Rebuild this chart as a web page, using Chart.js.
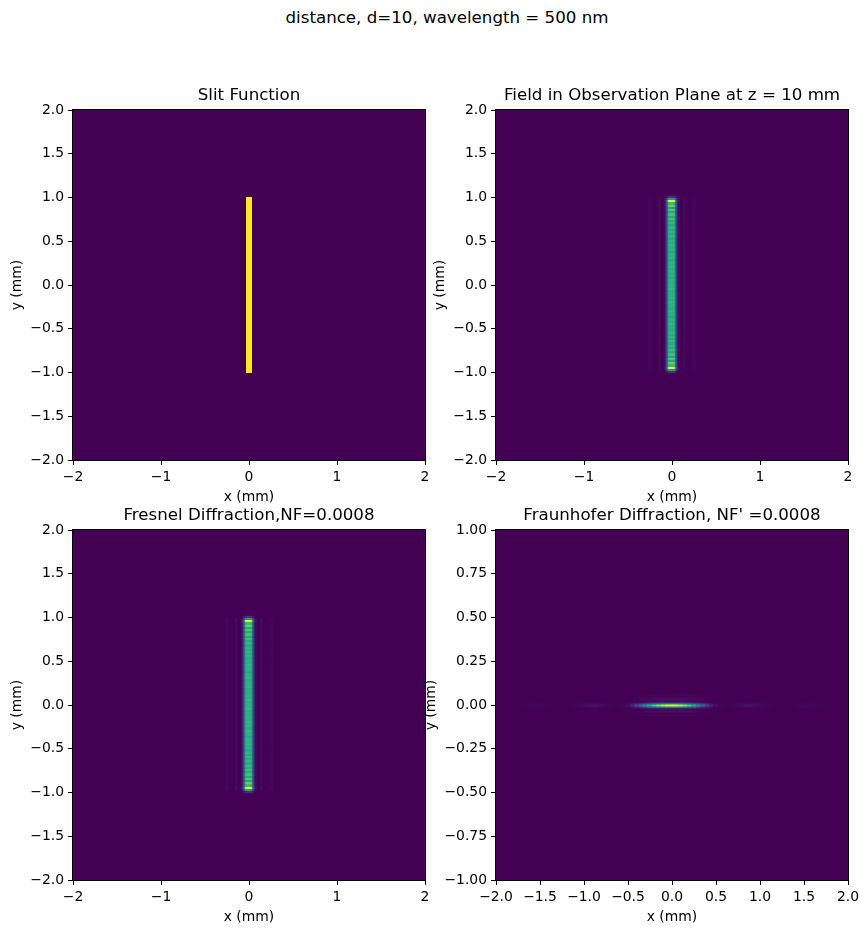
<!DOCTYPE html>
<html lang="en">
<head>
    <meta charset="UTF-8">
    <title>distance, d=10, wavelength = 500 nm</title>
    <script src="https://cdn.jsdelivr.net/npm/chart.js"></script>
    <style>
        body { margin: 0; background: #fff; width: 868px; height: 933px; position: relative; overflow: hidden; }
        #suptitle { position: absolute; left: 247px; width: 400px; top: 8px; line-height: 20px; text-align: center;
                    font: 16.67px "DejaVu Sans", sans-serif; color: #000; }
        .box { position: absolute; }
    </style>
</head>
<body>
    <div id="suptitle">distance, d=10, wavelength = 500 nm</div>
    <div class="box" style="left:0px;top:60px;width:434px;height:446px"><canvas id="slit"></canvas></div>
    <div class="box" style="left:423px;top:60px;width:445px;height:446px"><canvas id="field"></canvas></div>
    <div class="box" style="left:0px;top:480px;width:434px;height:446px"><canvas id="fresnel"></canvas></div>
    <div class="box" style="left:423px;top:480px;width:445px;height:446px"><canvas id="fraun"></canvas></div>

    <script>
        // Slit aperture (mm)
        const slitWidth = 0.05;
        const slitLength = 2.0;

        // Field / Fresnel pattern: profile across the slit (x offsets in mm, relative intensity)
        const fieldX = [-0.26, -0.25, -0.24, -0.15, -0.14, -0.13,
            -0.08, -0.07, -0.06, -0.05, -0.04, -0.03, -0.02, -0.01, 0, 0.01, 0.02, 0.03, 0.04, 0.05, 0.06, 0.07, 0.08,
            0.13, 0.14, 0.15, 0.24, 0.25, 0.26];
        const fieldXProfile = [0.015, 0.025, 0.015, 0.025, 0.035, 0.025,
            0.04, 0.12, 0.30, 0.55, 0.78, 0.92, 0.98, 1.00, 1.00, 1.00, 0.98, 0.92, 0.78, 0.55, 0.30, 0.12, 0.04,
            0.025, 0.035, 0.025, 0.015, 0.025, 0.015];
        // profile along the slit, from y = 1.05 mm down to y = -1.05 mm every 0.025 mm
        const fieldYStart = 1.05, fieldYStep = 0.025;
        const fieldYProfile = [
            0.00, 0.02, 0.15, 0.55, 1.00, 0.68, 0.78, 0.60, 0.74, 0.60, 0.71, 0.61, 0.70, 0.62, 0.68, 0.61,
            0.67, 0.62, 0.67, 0.62, 0.66, 0.62, 0.65, 0.63, 0.66, 0.64, 0.65, 0.62, 0.65, 0.64, 0.66, 0.63,
            0.65, 0.64, 0.66, 0.63, 0.65, 0.64, 0.65, 0.63, 0.66, 0.64, 0.65,
            0.64, 0.66, 0.63, 0.65, 0.64, 0.65, 0.63, 0.66, 0.64, 0.65, 0.63, 0.66, 0.64, 0.65, 0.62, 0.65,
            0.64, 0.66, 0.63, 0.65, 0.62, 0.66, 0.62, 0.67, 0.62, 0.67, 0.61, 0.68, 0.62, 0.70, 0.61, 0.71,
            0.60, 0.74, 0.60, 0.78, 0.68, 1.00, 0.55, 0.15, 0.02, 0.00];

        // Fraunhofer pattern: x from -2 to 2 mm every 0.05 mm
        const fraunXStart = -2.0, fraunXStep = 0.05;
        const fraunXProfile = [
            0, 0, 0, 0, 0, 0, 0.005, 0.01, 0.015, 0.02, 0.02, 0.015, 0.01, 0.005, 0, 0, 0, 0,
            0.008, 0.02, 0.03, 0.04, 0.05, 0.05, 0.035, 0.02, 0.01, 0, 0,
            0.01, 0.04, 0.10, 0.20, 0.32, 0.46, 0.60, 0.74, 0.85, 0.93, 0.98,
            1.00,
            0.98, 0.93, 0.85, 0.74, 0.60, 0.46, 0.32, 0.20, 0.10, 0.04, 0.01,
            0, 0, 0.01, 0.02, 0.035, 0.05, 0.05, 0.04, 0.03, 0.02, 0.008,
            0, 0, 0, 0, 0.005, 0.01, 0.015, 0.02, 0.02, 0.015, 0.01, 0.005, 0, 0, 0, 0, 0, 0];
        // y from -0.06 to 0.06 mm every 0.005 mm
        const fraunYStart = -0.06, fraunYStep = 0.005;
        const fraunYProfile = [
            0.01, 0.015, 0, 0, 0.03, 0.05, 0.03, 0, 0.02, 0.10, 0.35, 0.75,
            1.00,
            0.75, 0.35, 0.10, 0.02, 0, 0.03, 0.05, 0.03, 0, 0, 0.015, 0.01];

        // Titles and ticks
        const figTitle = 'distance, d=10, wavelength = 500 nm';
        const titles = ['Slit Function', 'Field in Observation Plane at z = 10 mm',
                        'Fresnel Diffraction,NF=0.0008', "Fraunhofer Diffraction, NF' =0.0008"];
        const axisLabelX = 'x (mm)', axisLabelY = 'y (mm)';

        const FONT = '"DejaVu Sans", sans-serif';
        const viridisStops = ['#440154', '#472c7a', '#3b518b', '#2c718e', '#21908d',
                              '#27ad81', '#5cc863', '#aadc32', '#fde725'].map(h => [
            parseInt(h.slice(1, 3), 16), parseInt(h.slice(3, 5), 16), parseInt(h.slice(5, 7), 16)]);

        function viridis(v) {
            v = Math.max(0, Math.min(1, v));
            const t = v * (viridisStops.length - 1);
            const i = Math.min(Math.floor(t), viridisStops.length - 2);
            const f = t - i, a = viridisStops[i], b = viridisStops[i + 1];
            return `rgb(${Math.round(a[0] + (b[0] - a[0]) * f)},${Math.round(a[1] + (b[1] - a[1]) * f)},${Math.round(a[2] + (b[2] - a[2]) * f)})`;
        }

        function fmt(v, digits) {
            return v.toFixed(digits).replace('-', '\u2212');
        }

        // draws the image cells through the chart's scales, then the axes frame
        const heatmap = {
            id: 'heatmap',
            beforeDatasetsDraw(chart) {
                const { ctx, chartArea: a, scales: { x, y } } = chart;
                ctx.save();
                ctx.beginPath();
                ctx.rect(a.left, a.top, a.width, a.height);
                ctx.clip();
                ctx.fillStyle = viridis(0);
                ctx.fillRect(a.left, a.top, a.width, a.height);
                chart.data.datasets.forEach(ds => {
                    ds.data.forEach(p => {
                        const x0 = Math.floor(x.getPixelForValue(p.x - ds.cellW / 2));
                        const x1 = Math.ceil(x.getPixelForValue(p.x + ds.cellW / 2));
                        const y0 = Math.floor(y.getPixelForValue(p.y + ds.cellH / 2));
                        const y1 = Math.ceil(y.getPixelForValue(p.y - ds.cellH / 2));
                        ctx.fillStyle = viridis(p.v);
                        ctx.fillRect(x0, y0, x1 - x0, y1 - y0);
                    });
                });
                ctx.restore();
            },
            afterDraw(chart) {
                const { ctx, chartArea: a } = chart;
                ctx.save();
                ctx.strokeStyle = '#000';
                ctx.lineWidth = 1;
                ctx.strokeRect(Math.round(a.left) - 0.5, Math.round(a.top) - 0.5,
                               Math.round(a.width) + 1, Math.round(a.height) + 1);
                ctx.restore();
            }
        };

        function axis(horizontal, min, max, step, digits, label, size, titlePad) {
            return {
                type: 'linear', min: min, max: max,
                ticks: {
                    stepSize: step, color: '#000', padding: 4, maxRotation: 0, autoSkip: false,
                    font: { family: FONT, size: 13.9 },
                    callback: v => fmt(v, digits)
                },
                grid: { drawOnChartArea: false, color: '#000', tickLength: 5, lineWidth: 1 },
                border: { display: false },
                title: {
                    display: true, text: label, color: '#000',
                    font: { family: FONT, size: 13.9 }, padding: titlePad
                },
                afterFit(s) {
                    if (horizontal) s.height = size; else s.width = size;
                }
            };
        }

        function makeChart(id, title, cells, cellW, cellH, xAxis, yAxis, padRight) {
            return new Chart(document.getElementById(id), {
                type: 'scatter',
                data: { datasets: [{ data: cells, cellW: cellW, cellH: cellH, pointRadius: 0, pointHoverRadius: 0 }] },
                options: {
                    responsive: true, maintainAspectRatio: false, animation: false,
                    events: [],
                    layout: { padding: { top: 26, right: padRight, left: 0, bottom: 0 } },
                    plugins: {
                        legend: { display: false },
                        tooltip: { enabled: false },
                        title: {
                            display: true, text: title, color: '#000', fullSize: false,
                            font: { family: FONT, size: 16.67, weight: 'normal' },
                            padding: { top: 0, bottom: 4 }
                        }
                    },
                    scales: { x: xAxis, y: yAxis }
                },
                plugins: [heatmap]
            });
        }

        // cells of the separable field pattern centred on x = 0
        const fieldCells = [];
        fieldYProfile.forEach((vy, j) => {
            fieldX.forEach((xv, i) => {
                fieldCells.push({ x: xv, y: fieldYStart - j * fieldYStep, v: fieldXProfile[i] * vy });
            });
        });

        const fraunCells = [];
        fraunYProfile.forEach((vy, j) => {
            fraunXProfile.forEach((vx, i) => {
                if (vx * vy > 0) fraunCells.push({ x: fraunXStart + i * fraunXStep, y: fraunYStart + j * fraunYStep, v: vx * vy });
            });
        });

        const slitCells = [{ x: 0, y: 0, v: 1 }];

        const xStd = () => axis(true, -2, 2, 1, 0, axisLabelX, 46, { top: 2, bottom: 0 });
        const yStd = pad => axis(false, -2, 2, 0.5, 1, axisLabelY, 73, { top: pad, bottom: 0 });

        makeChart('slit', titles[0], slitCells, slitWidth, slitLength, xStd(), yStd(9), 9);
        makeChart('field', titles[1], fieldCells, 0.01, fieldYStep, xStd(), yStd(9), 20);
        makeChart('fresnel', titles[2], fieldCells, 0.01, fieldYStep, xStd(), yStd(9), 9);
        makeChart('fraun', titles[3], fraunCells, fraunXStep, fraunYStep,
            axis(true, -2, 2, 0.5, 1, axisLabelX, 46, { top: 2, bottom: 0 }),
            axis(false, -1, 1, 0.25, 2, axisLabelY, 73, { top: 0, bottom: 0 }), 20);
    </script>
</body>
</html>
